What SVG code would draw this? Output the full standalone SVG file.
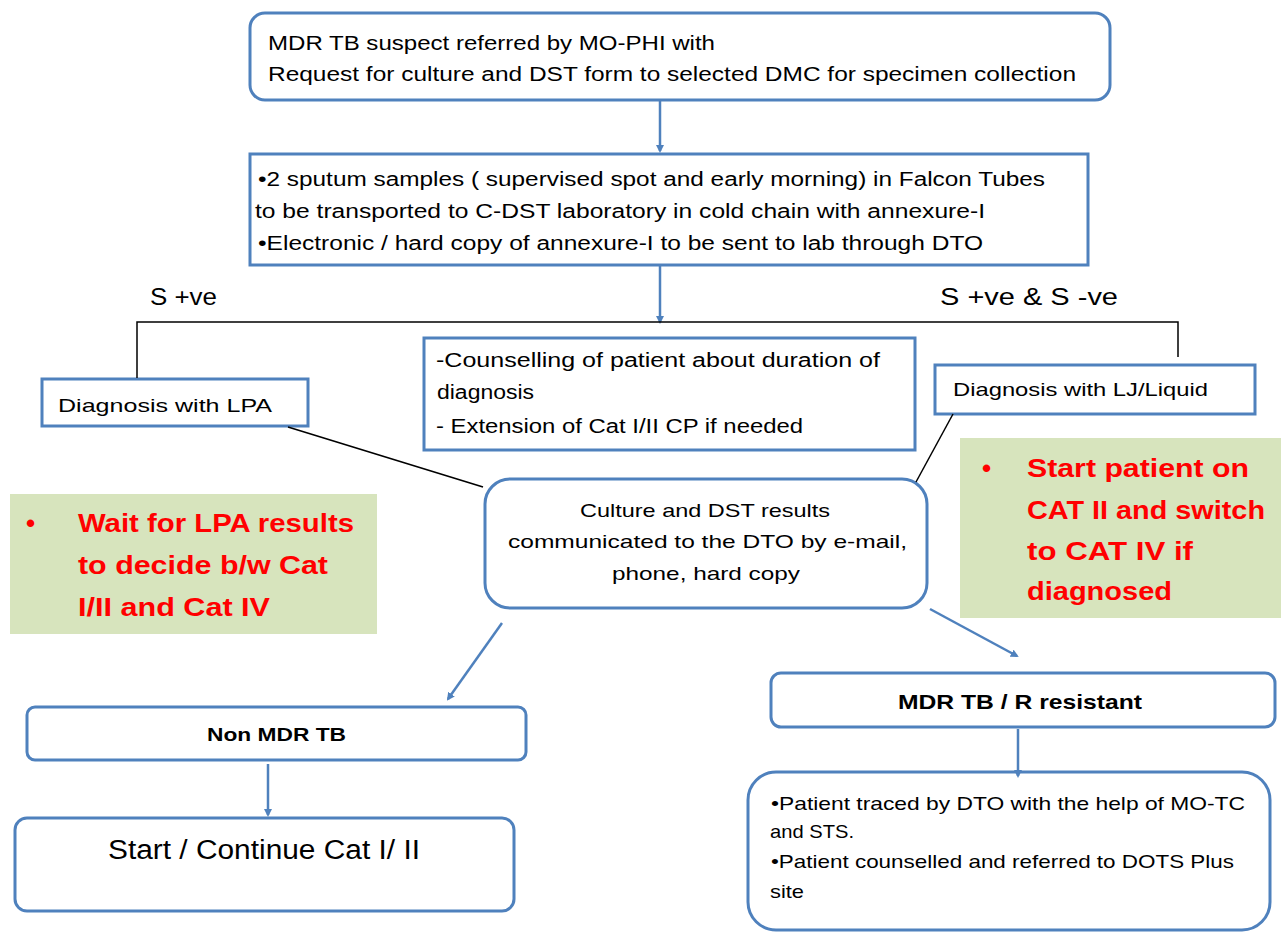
<svg xmlns="http://www.w3.org/2000/svg" width="1287" height="939" viewBox="0 0 1287 939">
<defs>
<style>
.box{fill:#fff;stroke:#4f81bd;stroke-width:3}
.t{font-family:"Liberation Sans",Arial,sans-serif;fill:#000}
.r{font-family:"Liberation Sans",Arial,sans-serif;fill:#ff0000;font-weight:bold;font-size:26px}
.green{fill:#d7e4bd}
.conn{stroke:#4f81bd;stroke-width:2.5;fill:none}
.blk{stroke:#000;stroke-width:1.5;fill:none}
</style>
<marker id="ah" markerWidth="8" markerHeight="8" refX="6" refY="4" orient="auto" markerUnits="userSpaceOnUse">
<path d="M0,0 L8,4 L0,8 z" fill="#4f81bd"/>
</marker>
</defs>
<rect width="1287" height="939" fill="#fff"/>

<g id="n1">
<rect class="box" x="250" y="13" width="860" height="87" rx="15"/>
<text class="t" font-size="20" x="268" y="50" textLength="447" lengthAdjust="spacingAndGlyphs">MDR TB suspect referred by MO-PHI with</text>
<text class="t" font-size="20" x="268" y="81" textLength="808" lengthAdjust="spacingAndGlyphs">Request for culture and DST form to  selected DMC for specimen collection</text>
</g>

<g id="n2">
<rect class="box" x="250" y="154" width="838" height="111"/>
<text class="t" font-size="20" x="258" y="186" textLength="787" lengthAdjust="spacingAndGlyphs">•2 sputum samples ( supervised spot and early morning) in Falcon Tubes</text>
<text class="t" font-size="20" x="255" y="218" textLength="730" lengthAdjust="spacingAndGlyphs">to be transported to C-DST laboratory in cold chain with annexure-I</text>
<text class="t" font-size="20" x="258" y="250" textLength="725" lengthAdjust="spacingAndGlyphs">•Electronic / hard copy of annexure-I to be sent to lab through DTO</text>
</g>

<g id="lbl-s">
<text class="t" font-size="24" x="150" y="305" textLength="67" lengthAdjust="spacingAndGlyphs">S +ve</text>
<text class="t" font-size="24" x="940" y="305" textLength="178" lengthAdjust="spacingAndGlyphs">S +ve &amp; S -ve</text>
</g>

<g id="n-lpa">
<rect class="box" x="42" y="379" width="266" height="47"/>
<text class="t" font-size="19" x="58" y="412" textLength="214" lengthAdjust="spacingAndGlyphs">Diagnosis with LPA</text>
</g>

<g id="n-counsel">
<rect class="box" x="424" y="338" width="491" height="112"/>
<text class="t" font-size="20" x="436" y="367" textLength="444" lengthAdjust="spacingAndGlyphs">-Counselling of patient about duration of</text>
<text class="t" font-size="20" x="437" y="399" textLength="97" lengthAdjust="spacingAndGlyphs">diagnosis</text>
<text class="t" font-size="20" x="436" y="433" textLength="367" lengthAdjust="spacingAndGlyphs">- Extension of Cat I/II CP if needed</text>
</g>

<g id="n-lj">
<rect class="box" x="935" y="365" width="320" height="49"/>
<text class="t" font-size="19" x="953" y="396" textLength="255" lengthAdjust="spacingAndGlyphs">Diagnosis with LJ/Liquid</text>
</g>

<g id="note-left">
<rect class="green" x="10" y="494" width="367" height="140"/>
<text class="r" x="26" y="532">•</text>
<text class="r" x="78" y="532" textLength="276" lengthAdjust="spacingAndGlyphs">Wait for LPA results</text>
<text class="r" x="78" y="574" textLength="250" lengthAdjust="spacingAndGlyphs">to decide b/w Cat</text>
<text class="r" x="78" y="616" textLength="192" lengthAdjust="spacingAndGlyphs">I/II and Cat IV</text>
</g>

<g id="note-right">
<rect class="green" x="960" y="438" width="321" height="180"/>
<text class="r" x="982" y="477">•</text>
<text class="r" x="1027" y="477" textLength="222" lengthAdjust="spacingAndGlyphs">Start patient on</text>
<text class="r" x="1027" y="519" textLength="238" lengthAdjust="spacingAndGlyphs">CAT II and switch</text>
<text class="r" x="1027" y="560" textLength="166" lengthAdjust="spacingAndGlyphs">to CAT IV if</text>
<text class="r" x="1027" y="600" textLength="145" lengthAdjust="spacingAndGlyphs">diagnosed</text>
</g>

<g id="n-culture">
<rect class="box" x="485" y="479" width="442" height="129" rx="25"/>
<text class="t" font-size="19" x="580" y="517" textLength="250" lengthAdjust="spacingAndGlyphs">Culture and DST results</text>
<text class="t" font-size="19" x="508" y="548" textLength="399" lengthAdjust="spacingAndGlyphs">communicated to the DTO by e-mail,</text>
<text class="t" font-size="19" x="612" y="580" textLength="188" lengthAdjust="spacingAndGlyphs">phone, hard copy</text>
</g>

<g id="n-nonmdr">
<rect class="box" x="27" y="707" width="499" height="53" rx="8"/>
<text class="t" font-size="18" font-weight="bold" x="207" y="741" textLength="139" lengthAdjust="spacingAndGlyphs">Non MDR TB</text>
</g>

<g id="n-start">
<rect class="box" x="15" y="818" width="499" height="93" rx="12"/>
<text class="t" font-size="27" x="108" y="859" textLength="312" lengthAdjust="spacingAndGlyphs">Start / Continue Cat I/ II</text>
</g>

<g id="n-mdr">
<rect class="box" x="771" y="673" width="504" height="54" rx="10"/>
<text class="t" font-size="21" font-weight="bold" x="898" y="709" textLength="244" lengthAdjust="spacingAndGlyphs">MDR TB / R resistant</text>
</g>

<g id="n-traced">
<rect class="box" x="748" y="772" width="522" height="158" rx="28"/>
<text class="t" font-size="19" x="771" y="810" textLength="474" lengthAdjust="spacingAndGlyphs">•Patient traced by DTO with the help of MO-TC</text>
<text class="t" font-size="19" x="770" y="838" textLength="84" lengthAdjust="spacingAndGlyphs">and STS.</text>
<text class="t" font-size="19" x="771" y="868" textLength="463" lengthAdjust="spacingAndGlyphs">•Patient counselled and referred to DOTS Plus</text>
<text class="t" font-size="19" x="770" y="898" textLength="34" lengthAdjust="spacingAndGlyphs">site</text>
</g>

<g id="connectors">
<line class="conn" x1="660" y1="101" x2="660" y2="151" marker-end="url(#ah)"/>
<line class="conn" x1="660" y1="266" x2="660" y2="322" marker-end="url(#ah)"/>
<polyline class="blk" points="137,378 137,322 1178,322 1178,357"/>
<line class="blk" x1="288" y1="427" x2="483" y2="487"/>
<line class="blk" x1="953" y1="414" x2="916" y2="482"/>
<line class="conn" x1="502" y1="623" x2="448" y2="699" marker-end="url(#ah)"/>
<line class="conn" x1="930" y1="609" x2="1017" y2="656" marker-end="url(#ah)"/>
<line class="conn" x1="268" y1="764" x2="268" y2="815" marker-end="url(#ah)"/>
<line class="conn" x1="1018" y1="729" x2="1018" y2="776" marker-end="url(#ah)"/>
</g>
</svg>
